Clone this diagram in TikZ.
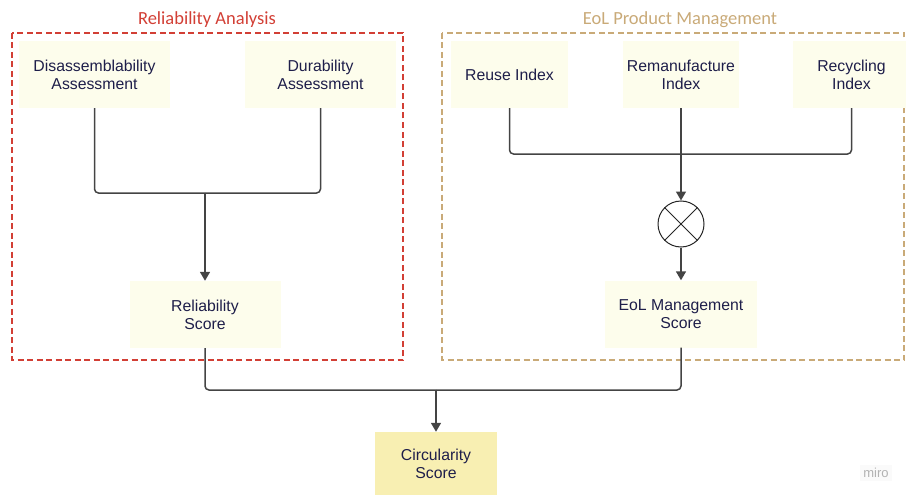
\documentclass[tikz,border=0pt]{standalone}
\usepackage{fontspec}
\setmainfont{Liberation Sans}
\newfontfamily\titlefont{Carlito}
\usetikzlibrary{arrows.meta}
\definecolor{boxfill}{HTML}{FDFDEC}
\definecolor{circfill}{HTML}{F8EFB2}
\definecolor{txtc}{HTML}{1E1E4A}
\definecolor{redd}{HTML}{D23F35}
\definecolor{tanc}{HTML}{C9AA78}
\definecolor{wire}{HTML}{444444}
\tikzset{
  box/.style={fill=boxfill, minimum height=67pt, inner sep=0pt, align=center, text=txtc,
    font=\fontsize{15.8}{18}\selectfont},
  conn/.style={draw=wire, line width=1.5pt, rounded corners=4pt},
  arr/.style={conn, -{Triangle[length=9pt,width=10pt]}},
  grp/.style={line width=2pt, dash pattern=on 6pt off 3.5pt},
  gtitle/.style={font=\titlefont\fontsize{18.5}{20}\selectfont}
}
\begin{document}
\begin{tikzpicture}[x=1pt,y=-1pt]
\useasboundingbox (0,0) rectangle (906,495);
% group frames
\draw[grp, draw=redd] (12,33) rectangle (403,360);
\draw[grp, draw=tanc] (442,33) rectangle (904,360);
\node[gtitle, text=redd] (t1) at (207,19.5) {Reliability Analysis};
\node[gtitle, text=tanc] (t2) at (680,19.5) {EoL Product Management};
% nodes
\node[box, minimum width=151pt] (dis) at (94.5,74.5) {Disassemblability\\Assessment};
\node[box, minimum width=151pt] (dur) at (320.5,74.5) {Durability\\Assessment};
\node[box, minimum width=117pt] (reu) at (509.5,74.5) {Reuse Index};
\node[box, minimum width=116pt] (rem) at (681,74.5) {Remanufacture\\Index};
\node[box, minimum width=117pt] (rec) at (851.5,74.5) {Recycling\\Index};
\node[box, minimum width=151pt] (rel) at (205,314.5) {Reliability\\Score};
\node[box, minimum width=152pt] (eol) at (681,314) {EoL Management\\Score};
\node[box, fill=circfill, minimum width=122pt, minimum height=63pt] (cir) at (436,463.5) {Circularity\\Score};
\node[circle, draw=black!85, line width=1pt, fill=white, minimum size=46pt, inner sep=0pt] (mul) at (681,224) {};
\draw[black!85, line width=1pt] (mul.north west) -- (mul.south east) (mul.north east) -- (mul.south west);
\node[fill=black!2, text=black!30, font=\fontsize{13}{14}\selectfont, inner sep=3pt] (miro) at (876,473) {miro};
% junctions
\coordinate (j1) at (205,193);
\coordinate (j2) at (681,154);
\coordinate (j3) at (436,390);
% connectors
\draw[conn] (dis.south) |- (j1);
\draw[conn] (dur.south) |- (j1);
\draw[arr] (j1) -- (rel.north);
\draw[conn] (reu.south) |- (j2);
\draw[conn] (rec.south) |- (j2);
\draw[arr] (rem.south) -- (mul.north);
\draw[arr] (mul.south) -- (eol.north);
\draw[conn] (rel.south) |- (j3);
\draw[conn] (eol.south) |- (j3);
\draw[arr] (j3) -- (cir.north);
\end{tikzpicture}
\end{document}
